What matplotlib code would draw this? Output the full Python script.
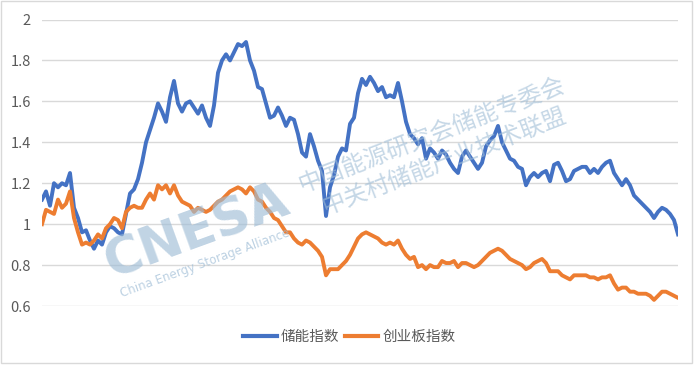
import numpy as np
import matplotlib
matplotlib.use('Agg')
import matplotlib.pyplot as plt
from matplotlib.patches import Rectangle

plt.rcParams['font.family'] = ['Noto Sans CJK SC', 'DejaVu Sans']

# values (normalised index, start = 1)
storage_index = [
    1.12, 1.16, 1.09, 1.20, 1.18, 1.20, 1.19, 1.25, 1.08, 1.03,
    0.96, 0.97, 0.92, 0.88, 0.92, 0.90, 0.96, 0.99, 0.98, 0.96,
    0.95, 1.05, 1.15, 1.17, 1.22, 1.30, 1.40, 1.46, 1.52, 1.59,
    1.55, 1.50, 1.62, 1.70, 1.59, 1.55, 1.59, 1.60, 1.57, 1.54,
    1.58, 1.52, 1.48, 1.58, 1.74, 1.80, 1.83, 1.80, 1.84, 1.88,
    1.87, 1.89, 1.80, 1.75, 1.67, 1.66, 1.59, 1.52, 1.53, 1.57,
    1.53, 1.48, 1.52, 1.51, 1.44, 1.35, 1.33, 1.44, 1.38, 1.31,
    1.26, 1.04, 1.18, 1.24, 1.33, 1.37, 1.36, 1.49, 1.52, 1.64,
    1.71, 1.68, 1.72, 1.69, 1.65, 1.67, 1.62, 1.63, 1.62, 1.69,
    1.60, 1.50, 1.44, 1.42, 1.39, 1.42, 1.32, 1.37, 1.35, 1.32,
    1.36, 1.34, 1.30, 1.27, 1.25, 1.33, 1.36, 1.33, 1.30, 1.27,
    1.30, 1.38, 1.41, 1.43, 1.48, 1.40, 1.36, 1.32, 1.31, 1.28,
    1.27, 1.19, 1.23, 1.25, 1.23, 1.25, 1.26, 1.21, 1.29, 1.30,
    1.26, 1.21, 1.22, 1.26, 1.27, 1.28, 1.28, 1.25, 1.27, 1.25,
    1.28, 1.30, 1.31, 1.25, 1.22, 1.19, 1.22, 1.19, 1.14, 1.12,
    1.10, 1.08, 1.06, 1.03, 1.06, 1.08, 1.07, 1.05, 1.02, 0.95,
]
chinext_index = [
    1.00, 1.07, 1.06, 1.05, 1.12, 1.08, 1.10, 1.16, 1.03, 0.96,
    0.90, 0.91, 0.90, 0.92, 0.95, 0.93, 0.98, 1.00, 1.03, 1.02,
    0.98, 1.06, 1.08, 1.09, 1.08, 1.08, 1.12, 1.15, 1.12, 1.19,
    1.17, 1.19, 1.15, 1.19, 1.14, 1.11, 1.10, 1.09, 1.06, 1.08,
    1.07, 1.06, 1.07, 1.09, 1.11, 1.12, 1.14, 1.16, 1.17, 1.18,
    1.17, 1.15, 1.18, 1.16, 1.12, 1.11, 1.08, 1.06, 1.03, 1.02,
    0.99, 0.96, 0.96, 0.93, 0.91, 0.90, 0.92, 0.91, 0.89, 0.87,
    0.84, 0.75, 0.78, 0.78, 0.78, 0.80, 0.82, 0.85, 0.89, 0.93,
    0.95, 0.96, 0.95, 0.94, 0.93, 0.91, 0.90, 0.91, 0.90, 0.92,
    0.88, 0.85, 0.83, 0.84, 0.79, 0.80, 0.78, 0.80, 0.79, 0.79,
    0.82, 0.81, 0.81, 0.82, 0.79, 0.81, 0.81, 0.80, 0.79, 0.80,
    0.82, 0.84, 0.86, 0.87, 0.88, 0.87, 0.85, 0.83, 0.82, 0.81,
    0.80, 0.78, 0.79, 0.81, 0.82, 0.83, 0.81, 0.77, 0.77, 0.77,
    0.75, 0.74, 0.73, 0.75, 0.75, 0.75, 0.75, 0.74, 0.74, 0.73,
    0.74, 0.74, 0.75, 0.71, 0.68, 0.69, 0.69, 0.67, 0.67, 0.66,
    0.66, 0.66, 0.65, 0.63, 0.65, 0.67, 0.67, 0.66, 0.65, 0.64,
]
series_names = ['储能指数', '创业板指数']
y_ticks = [0.6, 0.8, 1.0, 1.2, 1.4, 1.6, 1.8, 2.0]
y_labels = ['0.6', '0.8', '1', '1.2', '1.4', '1.6', '1.8', '2']

fig = plt.figure(figsize=(7, 3.66), dpi=100)
ax = fig.add_axes([0.06, 0.1639, 0.9086, 0.7828])

days = np.arange(len(storage_index))
ax.plot(days, storage_index, color='#4472C4', lw=2.8, label=series_names[0],
        solid_joinstyle='round', zorder=3)
ax.plot(days, chinext_index, color='#ED7D31', lw=2.8, label=series_names[1],
        solid_joinstyle='round', zorder=3)

ax.set_xlim(0, len(days) - 1)
ax.set_ylim(0.6, 2.0)
ax.set_yticks(y_ticks)
ax.set_yticklabels(y_labels)
ax.set_xticks([])
ax.tick_params(axis='y', length=0, pad=8, labelsize=10.5, labelcolor='#595959')
ax.grid(axis='y', color='#d9d9d9', lw=1)
ax.set_axisbelow(True)
for s in ax.spines.values():
    s.set_visible(False)

leg = fig.legend(loc='center', bbox_to_anchor=(0.499, 0.079), ncol=2,
                 frameon=False, fontsize=10.5, handlelength=2.3,
                 handletextpad=0.3, columnspacing=0.35)
for t in leg.get_texts():
    t.set_color('#595959')
for h in leg.get_lines():
    h.set_linewidth(3)

# CNESA watermark
wm = '#9fbdd6'
fig.text(197 / 700, 1 - 232 / 366, 'CNESA', fontsize=37, fontweight='bold',
         color=wm, alpha=0.65, rotation=20, ha='center', va='center',
         family='DejaVu Sans', zorder=10)
fig.text(205 / 700, 1 - 263 / 366, 'China Energy Storage Alliance', fontsize=8.5,
         color=wm, alpha=0.7, rotation=20, ha='center', va='center',
         family='DejaVu Sans', zorder=10)
fig.text(432 / 700, 1 - 135 / 366, '中国能源研究会储能专委会', fontsize=17,
         color=wm, alpha=0.6, rotation=21, ha='center', va='center', zorder=10)
fig.text(445 / 700, 1 - 162 / 366, '中关村储能产业技术联盟', fontsize=17,
         color=wm, alpha=0.6, rotation=21, ha='center', va='center', zorder=10)

fig.patches.append(Rectangle((1 / 700, 3 / 366), 691 / 700, 362 / 366,
                             transform=fig.transFigure, fill=False,
                             edgecolor='#d9d9d9', lw=1))

fig.savefig('out.png', dpi=100)
